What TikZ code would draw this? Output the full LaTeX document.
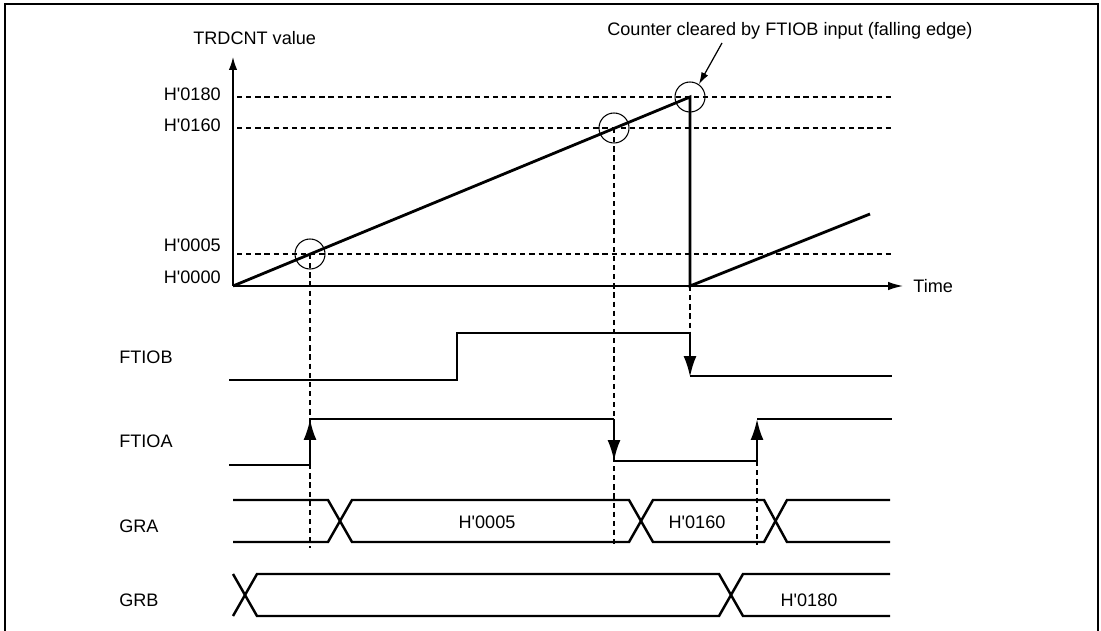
\documentclass[tikz,border=0pt]{standalone}
\usepackage{fontspec}
\setmainfont{Liberation Sans}
\usetikzlibrary{arrows.meta}
\newcommand{\hx}{H\textquotesingle}

\begin{document}
\begin{tikzpicture}[
    x=0.02cm, y=-0.02cm,
    every node/.style={font=\fontsize{10.3}{12}\selectfont,inner sep=0pt},
    lbl/.style={anchor=base west},
    lvl/.style={anchor=base east},
    val/.style={anchor=base},
    axis/.style={line width=0.8pt},
    ramp/.style={line width=1.6pt},
    sig/.style={line width=1.4pt},
    guide/.style={line width=0.6pt,dash pattern=on 3pt off 2.2pt},
    ring/.style={circle,draw,line width=0.6pt,minimum size=0.6cm},
    sigarrow/.style={-{Latex[length=0.42cm,width=0.26cm]}}
  ]
    \useasboundingbox (0,0) rectangle (1101,631);
    \draw[line width=1pt] (5,631) -- (5,4) -- (1098,4) -- (1098,631);

    % counter axes
    \coordinate (origin) at (233,286);
    \coordinate (ytop) at (233,57);
    \coordinate (xend) at (903,286);
    \draw[axis,-{Latex[length=0.26cm,width=0.17cm]}] (origin) -- (ytop);
    \draw[axis,-{Latex[length=0.3cm,width=0.17cm]}] (origin) -- (xend);
    \node[lbl] (cntlbl) at (193,45) {TRDCNT value};
    \node[lbl] (timelbl) at (913,293) {Time};

    \foreach \y in {97,128,254}
      \draw[guide] (237,\y) -- (893,\y);
    \node[lvl] (l180) at (221,100.7) {\hx0180};
    \node[lvl] (l160) at (221,132) {\hx0160};
    \node[lvl] (l005) at (221,252) {\hx0005};
    \node[lvl] (l000) at (221,284) {\hx0000};

    \draw[ramp] (origin) -- (690,97) -- (690,286) -- (870,214);

    \node[ring] (c1) at (310,254) {};
    \node[ring] (c2) at (614,128) {};
    \node[ring] (c3) at (690,97) {};

    \node[lbl] (note) at (607,36) {Counter cleared by FTIOB input (falling edge)};
    \coordinate (notefoot) at (722,43);
    \draw[line width=0.7pt,-{Latex[length=0.24cm,width=0.15cm]}] (notefoot) -- (c3.55);

    % guide lines down to the signals
    \draw[guide] (c1.center) -- (310,548);
    \draw[guide] (c2.center) -- (614,548);
    \draw[guide] (690,286) -- (690,333);
    \draw[guide] (757,461) -- (757,545);

    % FTIOB
    \node[lbl] (ftiob) at (119,363) {FTIOB};
    \draw[sig] (229,380) -- (457,380) -- (457,333) -- (690,333);
    \draw[sig,sigarrow] (690,333) -- (690,377);
    \draw[sig] (690,376) -- (892,376);

    % FTIOA
    \node[lbl] (ftioa) at (119,447) {FTIOA};
    \draw[sig] (229,465) -- (310,465);
    \draw[sig,sigarrow] (310,465) -- (310,419);
    \draw[sig] (310,419) -- (614,419);
    \draw[sig,sigarrow] (614,419) -- (614,461);
    \draw[sig] (614,461) -- (757,461);
    \draw[sig,sigarrow] (757,461) -- (757,419);
    \draw[sig] (757,419) -- (892,419);

    % GRA
    \node[lbl] (gra) at (119,532) {GRA};
    \draw[sig] (233,500) -- (328,500) -- (352,542) -- (629,542) -- (653,500) -- (764,500) -- (787,542) -- (890,542);
    \draw[sig] (233,542) -- (328,542) -- (352,500) -- (629,500) -- (653,542) -- (764,542) -- (787,500) -- (890,500);
    \node[val] (gra005) at (487,528) {\hx0005};
    \node[val] (gra160) at (697,528) {\hx0160};

    % GRB
    \node[lbl] (grb) at (119,606) {GRB};
    \draw[sig] (233,574) -- (257,616) -- (719,616) -- (743,574) -- (890,574);
    \draw[sig] (233,616) -- (257,574) -- (719,574) -- (743,616) -- (890,616);
    \node[val] (grb180) at (809,606) {\hx0180};
  \end{tikzpicture}
\end{document}
